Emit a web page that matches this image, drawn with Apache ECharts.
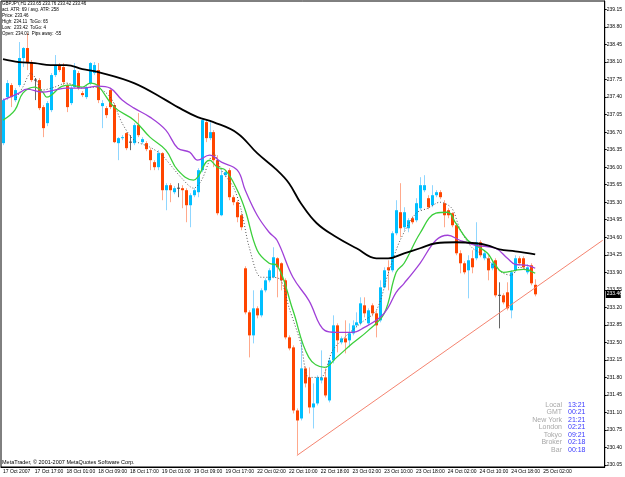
<!DOCTYPE html>
<html>
<head>
<meta charset="utf-8">
<script src="https://cdn.jsdelivr.net/npm/echarts@6/dist/echarts.min.js"></script>
<style>
html, body { margin: 0; padding: 0; background: #fff; }
#chart { width: 625px; height: 477px; }
</style>
</head>
<body>
<div id="chart"></div>
<script>
// time labels under the chart, one every 8 hourly bars
const xTickLabels = ['17 Oct 2007', '17 Oct 17:00', '18 Oct 01:00', '18 Oct 09:00', '18 Oct 17:00',
  '19 Oct 01:00', '19 Oct 09:00', '19 Oct 17:00', '22 Oct 02:00', '22 Oct 10:00', '22 Oct 18:00',
  '23 Oct 02:00', '23 Oct 10:00', '23 Oct 18:00', '24 Oct 02:00', '24 Oct 10:00', '24 Oct 18:00',
  '25 Oct 02:00'];

const yTicks = [230.05, 230.40, 230.75, 231.10, 231.45, 231.80, 232.15, 232.50, 232.85, 233.20,
  233.55, 233.90, 234.25, 234.60, 234.95, 235.30, 235.65, 236.00, 236.35, 236.70, 237.05,
  237.40, 237.75, 238.10, 238.45, 238.80, 239.15];

// GBPJPY H1 bars: [open, high, low, close]
const candles = [
  [236.48, 237.38, 236.44, 237.34], [237.40, 237.74, 237.34, 237.68], [237.64, 237.68, 237.20, 237.40],
  [237.34, 237.58, 237.30, 237.54], [237.64, 238.50, 237.60, 238.18], [238.18, 238.40, 238.00, 238.38],
  [238.38, 238.68, 237.94, 238.08], [238.10, 238.14, 237.70, 237.74], [237.74, 237.78, 237.34, 237.74],
  [237.74, 237.78, 237.14, 237.18], [237.20, 237.24, 236.60, 236.78], [236.88, 237.32, 236.82, 237.28],
  [237.14, 237.88, 237.10, 237.84], [237.84, 238.24, 237.80, 238.04], [238.04, 238.08, 237.90, 237.94],
  [238.00, 238.08, 237.64, 237.70], [237.64, 237.68, 237.10, 237.20], [237.28, 237.62, 237.24, 237.58],
  [237.60, 238.08, 237.58, 237.94], [237.88, 237.92, 237.54, 237.58], [237.48, 237.52, 237.40, 237.44],
  [237.40, 237.64, 237.36, 237.60], [237.68, 238.10, 237.64, 238.08], [237.88, 238.10, 237.84, 238.04],
  [237.94, 238.08, 237.28, 237.34], [237.22, 237.34, 236.78, 237.28], [237.18, 237.22, 236.98, 237.04],
  [237.54, 237.58, 237.16, 237.20], [237.24, 237.28, 236.48, 236.50], [236.48, 236.60, 236.14, 236.58],
  [236.58, 236.64, 236.54, 236.60], [236.68, 236.70, 236.34, 236.38], [236.50, 236.64, 236.34, 236.50],
  [236.48, 236.88, 236.44, 236.84], [236.84, 237.08, 236.60, 236.64], [236.50, 236.60, 236.46, 236.56],
  [236.48, 236.52, 236.32, 236.36], [236.34, 236.38, 235.94, 236.14], [236.10, 236.14, 235.94, 236.00],
  [236.00, 236.34, 235.94, 236.28], [236.28, 236.30, 235.34, 235.54], [235.54, 235.68, 235.14, 235.64],
  [235.64, 235.68, 235.30, 235.54], [235.50, 235.62, 235.46, 235.58], [235.58, 235.68, 235.40, 235.58],
  [235.58, 235.64, 235.18, 235.54], [235.54, 235.58, 234.90, 235.24], [235.24, 235.48, 234.80, 235.44],
  [235.44, 235.58, 235.40, 235.54], [235.50, 235.98, 235.40, 235.94], [235.94, 236.98, 235.90, 236.94],
  [236.90, 236.94, 236.50, 236.58], [236.58, 236.90, 236.54, 236.70], [236.70, 236.74, 236.00, 236.14],
  [236.14, 236.24, 235.04, 235.08], [235.04, 235.94, 235.02, 235.84], [235.84, 235.94, 235.80, 235.90],
  [235.94, 235.98, 235.34, 235.40], [235.40, 235.44, 235.24, 235.30], [235.30, 235.34, 234.90, 235.00],
  [235.04, 235.08, 234.74, 234.80], [233.98, 234.02, 233.06, 233.10], [233.10, 233.14, 232.20, 232.64],
  [232.64, 233.54, 232.48, 233.18], [233.18, 233.22, 232.98, 233.04], [233.04, 233.58, 233.00, 233.54],
  [233.54, 233.78, 233.50, 233.74], [233.74, 233.98, 233.70, 233.94], [233.80, 234.40, 233.78, 234.20],
  [234.18, 234.20, 233.40, 234.00], [234.08, 234.10, 233.54, 233.74], [233.74, 233.78, 232.56, 232.60],
  [232.60, 232.64, 232.34, 232.38], [232.40, 232.44, 231.08, 231.14], [231.14, 231.18, 230.26, 230.94],
  [230.98, 232.54, 230.94, 231.98], [231.98, 232.02, 231.60, 231.68], [231.80, 232.00, 231.08, 231.20],
  [231.20, 231.68, 230.78, 231.28], [231.28, 231.84, 231.24, 231.80], [231.74, 232.34, 231.68, 231.80],
  [231.80, 231.98, 231.40, 231.44], [231.34, 232.20, 231.30, 232.14], [232.14, 233.04, 232.08, 232.84],
  [232.84, 232.88, 232.30, 232.54], [232.50, 232.62, 232.46, 232.58], [232.58, 232.94, 232.28, 232.50],
  [232.54, 232.88, 232.40, 232.68], [232.68, 232.94, 232.64, 232.84], [232.84, 233.10, 232.80, 232.90],
  [232.88, 233.40, 232.84, 233.28], [233.24, 233.40, 233.00, 233.08], [232.88, 233.18, 232.84, 233.14],
  [233.24, 233.28, 233.02, 233.08], [233.08, 233.14, 232.60, 232.84], [232.94, 233.74, 232.90, 233.60],
  [233.60, 234.00, 233.58, 233.94], [234.00, 234.14, 233.54, 233.94], [233.94, 234.72, 233.90, 234.68],
  [234.68, 235.34, 234.64, 235.14], [235.10, 235.68, 234.60, 234.78], [234.80, 235.20, 234.74, 235.10],
  [234.78, 234.98, 234.70, 234.94], [234.98, 235.02, 234.86, 234.90], [234.94, 235.38, 234.90, 235.28],
  [235.18, 235.80, 235.14, 235.64], [235.54, 235.84, 235.50, 235.64], [235.38, 235.44, 235.16, 235.20],
  [235.24, 235.64, 235.20, 235.44], [235.44, 235.54, 235.40, 235.50], [235.50, 235.54, 235.36, 235.40],
  [235.28, 235.34, 234.80, 235.04], [235.14, 235.18, 234.98, 235.04], [235.08, 235.10, 234.80, 234.84],
  [234.84, 234.88, 234.24, 234.28], [234.28, 234.34, 233.88, 234.08], [234.08, 234.12, 233.86, 233.90],
  [233.94, 234.24, 233.38, 234.14], [234.18, 234.34, 233.88, 234.00], [234.18, 234.90, 234.14, 234.50],
  [234.50, 234.54, 234.20, 234.24], [234.18, 234.34, 234.14, 234.28], [234.18, 234.24, 233.74, 233.94],
  [233.98, 234.14, 233.94, 234.08], [234.14, 234.18, 233.40, 233.44], [233.44, 233.70, 232.78, 233.44],
  [233.44, 233.48, 233.26, 233.30], [233.50, 233.70, 233.14, 233.18], [233.14, 233.94, 232.98, 233.90],
  [233.94, 234.24, 233.90, 234.18], [234.18, 234.22, 234.04, 234.08], [234.18, 234.22, 233.96, 234.00],
  [233.90, 234.06, 233.86, 234.00], [234.04, 234.08, 233.64, 233.68], [233.65, 233.76, 233.42, 233.46]
];

// moving averages: [bar, price]
const maBlack = [[0, 238.16], [4, 238.10], [8, 238.08], [12, 238.04], [16, 238.04], [20, 237.96],
  [24, 237.90], [33, 237.68], [41, 237.34], [44, 237.20], [49, 237.00], [53, 236.90], [59, 236.68],
  [64, 236.28], [69, 235.94], [72, 235.68], [75, 235.28], [79, 234.88], [84, 234.60], [89, 234.38],
  [94, 234.18], [97, 234.18], [101, 234.28], [105, 234.38], [109, 234.48], [114, 234.50],
  [119, 234.48], [122, 234.44], [125, 234.36], [129, 234.32], [134, 234.26]];
const maPurple = [[0, 237.34], [4, 237.48], [6, 237.56], [10, 237.50], [13, 237.54], [16, 237.58],
  [20, 237.58], [24, 237.62], [27, 237.58], [30, 237.34], [33, 237.18], [37, 237.00], [41, 236.74],
  [44, 236.38], [47, 236.30], [49, 236.14], [52, 236.24], [55, 236.10], [59, 235.94], [61, 235.54],
  [64, 235.04], [67, 234.70], [69, 234.54], [73, 233.80], [77, 233.34], [81, 232.74], [84, 232.70],
  [88, 232.70], [91, 232.80], [95, 233.00], [97, 233.20], [99, 233.50], [101, 233.68], [105, 234.08],
  [109, 234.54], [112, 234.64], [115, 234.54], [119, 234.44], [124, 234.38], [127, 234.18],
  [129, 234.06], [132, 234.04], [134, 233.98]];
const maGreen = [[0, 236.94], [3, 237.14], [5, 237.48], [8, 237.60], [10, 237.50], [11, 237.40],
  [15, 237.62], [17, 237.64], [20, 237.60], [22, 237.68], [24, 237.62], [28, 237.20], [33, 236.94],
  [37, 236.60], [41, 236.34], [44, 235.94], [48, 235.74], [49, 235.80], [52, 236.14], [54, 236.00],
  [56, 235.94], [59, 235.54], [61, 235.14], [64, 234.34], [67, 234.08], [69, 234.04], [73, 233.14],
  [77, 232.20], [81, 232.00], [84, 232.20], [88, 232.48], [92, 232.74], [96, 233.08], [99, 233.90],
  [101, 234.08], [105, 234.68], [109, 235.08], [112, 235.10], [114, 234.88], [117, 234.54],
  [119, 234.44], [122, 234.28], [124, 234.04], [126, 233.90], [129, 233.94], [131, 233.96],
  [134, 233.88]];
const maDotted = [[3, 237.34], [5, 237.60], [7, 237.88], [8, 237.80], [10, 237.54], [13, 237.60],
  [16, 237.68], [20, 237.58], [23, 237.60], [27, 237.40], [30, 236.88], [33, 236.54], [37, 236.40],
  [40, 236.24], [45, 235.78], [48, 235.58], [50, 235.74], [52, 236.14], [53, 236.28], [55, 235.94],
  [58, 235.60], [60, 235.14], [62, 234.40], [65, 233.80], [68, 233.80], [70, 233.74], [72, 233.20],
  [75, 232.48], [77, 231.80], [80, 231.80], [83, 232.34], [86, 232.60], [90, 232.88], [94, 233.14],
  [97, 233.88], [100, 234.54], [104, 235.08], [107, 235.18], [110, 235.30], [113, 235.18],
  [115, 234.78], [118, 234.40], [121, 234.24], [124, 234.00], [126, 233.88], [128, 233.84],
  [130, 234.00], [133, 233.94]];

const trendLine = [[74, 230.24], [151, 234.54]];
const lastPrice = 233.46;

const infoLines = ['GBPJPY,H1 233.65 233.76 233.42 233.46', 'act. ATR: 69 / avg. ATR: 258',
  'Price: 233.46', 'High: 234.11  ToGo: 65', 'Low:  233.42  ToGo: 4', 'Open: 234.01  Pips away: -55'];
const clockNames = ['Local', 'GMT', 'New York', 'London', 'Tokyo', 'Broker', 'Bar'];
const clockTimes = ['13:21', '00:21', '21:21', '02:21', '09:21', '02:18', '00:18'];

const slotCount = 152;
const slots = [];
for (let i = 0; i < slotCount; i++) slots.push(i);

const UP = '#00bfff', DOWN = '#ff4500';
const UP_WICK = '#8fd6ff', DOWN_WICK = '#ffa98c';
const FONT = 'Liberation Sans';

function renderCandle(params, api) {
  const i = api.value(0);
  const o = api.value(1), h = api.value(2), l = api.value(3), c = api.value(4);
  const pO = api.coord([i, o]), pC = api.coord([i, c]);
  const pH = api.coord([i, h]), pL = api.coord([i, l]);
  const x = Math.round(pO[0]) + 0.5;
  const flat = Math.abs(c - o) < 0.005;
  const up = c > o;
  const top = Math.min(pO[1], pC[1]), bot = Math.max(pO[1], pC[1]);
  const children = [{
    type: 'line',
    shape: { x1: x, y1: pH[1], x2: x, y2: pL[1] },
    style: { stroke: flat ? '#666' : (up ? UP_WICK : DOWN_WICK), lineWidth: 1 }
  }];
  if (flat) {
    children.push({ type: 'line', shape: { x1: x - 1.5, y1: top, x2: x + 1.5, y2: top },
      style: { stroke: '#444', lineWidth: 1 } });
  } else {
    children.push({ type: 'rect', shape: { x: x - 1.5, y: top, width: 3, height: Math.max(1, bot - top) },
      style: { fill: up ? UP : DOWN } });
  }
  return { type: 'group', children: children };
}

const chart = echarts.init(document.getElementById('chart'), null, { renderer: 'canvas' });

chart.setOption({
  animation: false,
  backgroundColor: '#fff',
  title: [
    { text: infoLines.join('\n'), left: 2, top: 1, padding: 0,
      textStyle: { fontFamily: FONT, fontSize: 4.5, fontWeight: 'normal', color: '#000', lineHeight: 6 } },
    { text: 'MetaTrader, © 2001-2007 MetaQuotes Software Corp.', left: 2, top: 459, padding: 0,
      textStyle: { fontFamily: FONT, fontSize: 5.5, fontWeight: 'normal', color: '#000' } },
    { text: clockNames.join('\n'), left: 562, top: 401, padding: 0, textAlign: 'right',
      textStyle: { fontFamily: FONT, fontSize: 7, fontWeight: 'normal', color: '#a8a8a8', lineHeight: 7.5, align: 'right' } },
    { text: clockTimes.join('\n'), left: 568, top: 401, padding: 0,
      textStyle: { fontFamily: FONT, fontSize: 7, fontWeight: 'normal', color: '#3a3aff', lineHeight: 7.5 } }
  ],
  grid: { left: 0, right: 17, top: 1, bottom: 10, show: true, borderColor: '#000', borderWidth: 1, backgroundColor: '#fff' },
  xAxis: {
    type: 'category', data: slots, boundaryGap: true,
    axisLine: { lineStyle: { color: '#000', width: 1 } },
    axisTick: { alignWithLabel: true, interval: 7, length: 2, lineStyle: { color: '#000' } },
    axisLabel: {
      interval: 7, align: 'left', margin: 2, fontFamily: FONT, fontSize: 5, color: '#000',
      formatter: (v, idx) => xTickLabels[idx / 8] || ''
    },
    splitLine: { show: false }
  },
  yAxis: {
    type: 'value', position: 'right', min: 230.01, max: 239.32,
    axisLine: { show: true, lineStyle: { color: '#000', width: 1 } },
    axisTick: { show: true, customValues: yTicks, length: 2, lineStyle: { color: '#000' } },
    axisLabel: { customValues: yTicks, formatter: v => v.toFixed(2), margin: 2,
      fontFamily: FONT, fontSize: 5, color: '#000' },
    splitLine: { show: false }
  },
  series: [
    { type: 'line', data: trendLine, symbol: 'none', silent: true, clip: false,
      lineStyle: { color: '#f58470', width: 1 } },
    { type: 'custom', renderItem: renderCandle, clip: true,
      data: candles.map((d, i) => [i, d[0], d[1], d[2], d[3]]), encode: { x: 0, y: [1, 2, 3, 4] } },
    { type: 'line', data: maDotted, symbol: 'none', smooth: 0.3, silent: true,
      lineStyle: { color: '#555', width: 1, type: [1, 2] } },
    { type: 'line', data: maGreen, symbol: 'none', smooth: 0.4, silent: true,
      lineStyle: { color: '#3ccf3c', width: 1.3 } },
    { type: 'line', data: maPurple, symbol: 'none', smooth: 0.4, silent: true,
      lineStyle: { color: '#a040d8', width: 1.3 } },
    { type: 'line', data: maBlack, symbol: 'none', smooth: 0.4, silent: true,
      lineStyle: { color: '#000', width: 1.8 } }
  ]
});

// current price tag on the price scale, placed through the axis scale
const tagY = chart.convertToPixel({ yAxisIndex: 0 }, lastPrice);
const gridRight = chart.convertToPixel({ xAxisIndex: 0 }, slotCount - 1) + 2;
chart.setOption({
  graphic: [{
    type: 'group', x: gridRight + 1, y: Math.round(tagY) - 4, z: 100,
    children: [
      { type: 'rect', shape: { x: 0, y: 0, width: 15, height: 8 }, style: { fill: '#000' } },
      { type: 'text', x: 1, y: 1.5, style: { text: lastPrice.toFixed(2), fill: '#fff', font: '5px ' + FONT } }
    ]
  }]
});
</script>
</body>
</html>
